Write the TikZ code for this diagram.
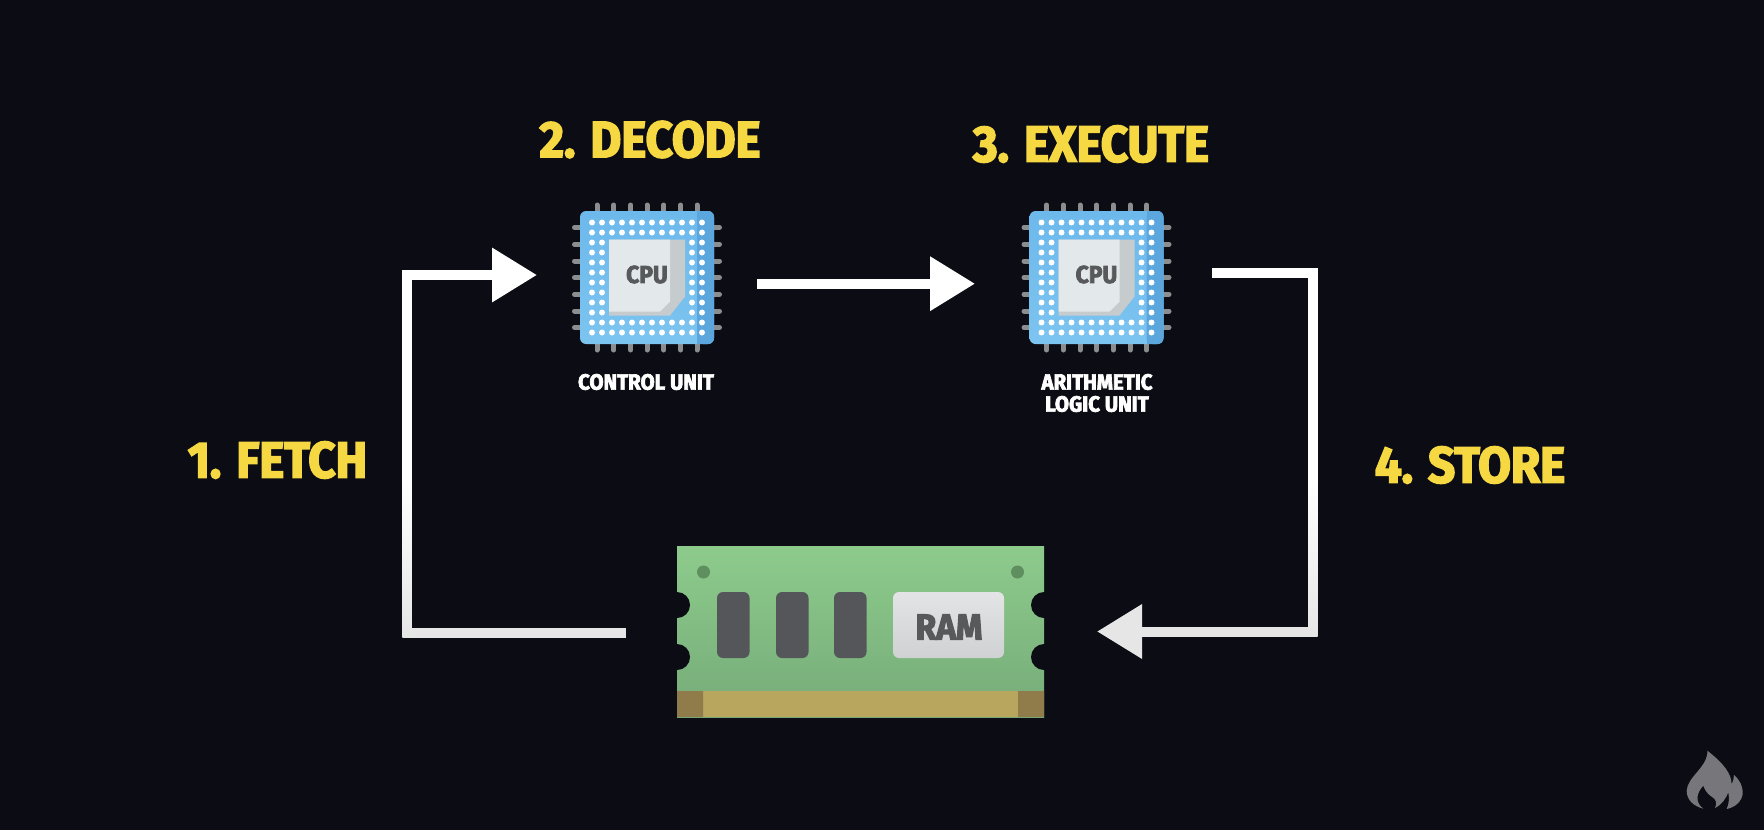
\documentclass[tikz,border=0pt]{standalone}
\usepackage{fontspec}
\setmainfont{Fira Sans}[FakeStretch=0.93,BoldFeatures={FakeBold=3.2}]
\usetikzlibrary{arrows.meta}
\definecolor{bgc}{HTML}{0C0C14}
\definecolor{yel}{HTML}{F5D842}
\definecolor{pin}{HTML}{8A8E8E}
\definecolor{chiptop}{HTML}{6DB9EC}
\definecolor{chipbot}{HTML}{7CC4F0}
\definecolor{chipdark}{HTML}{5BA6DC}
\definecolor{diet}{HTML}{E3E8EA}
\definecolor{dies}{HTML}{C6CBCE}
\definecolor{inkc}{HTML}{58595B}
\definecolor{greentop}{HTML}{8DCB8C}
\definecolor{greenbot}{HTML}{76AB78}
\definecolor{gold}{HTML}{B8A55E}
\definecolor{golddark}{HTML}{8F7C4A}
\definecolor{holec}{HTML}{5F8F5F}
\definecolor{ramchipc}{HTML}{555659}
\definecolor{labeltop}{HTML}{E2E4E6}
\definecolor{labelbot}{HTML}{CFD1D3}
\definecolor{flamec}{HTML}{77777B}
\definecolor{linelow}{HTML}{E6E6E6}
\tikzset{
  steplabel/.style={text=yel,font=\fontsize{51}{51}\selectfont\bfseries,inner sep=0pt,anchor=center},
  unitlabel/.style={text=white,font=\fontsize{22}{22}\selectfont\bfseries,inner sep=0pt,align=center},
  flow/.style={draw=white,line width=10pt,miter limit=10,-{Triangle[length=45pt,width=52pt]}},
  flowlow/.style={draw=linelow,line width=10pt,miter limit=10,-{Triangle[length=45pt,width=52pt]}},
  flowplain/.style={draw=white,line width=10pt,miter limit=10},
  flowlowplain/.style={draw=linelow,line width=10pt},
  pinline/.style={draw=pin,line width=5pt,line cap=round},
}
\newcommand{\cpuchip}[3]{%
  \begin{scope}[shift={(#2,#3)}]
    \foreach \p in {-50,-33.2,-16.4,0,16.8,33.6,50}{
      \draw[pinline] (\p,-72.5) -- (\p,72.5);
      \draw[pinline] (-72.5,\p) -- (72.5,\p);
    }
    \node[minimum width=134pt,minimum height=133pt,inner sep=0pt,rounded corners=6pt,
      top color=chiptop,bottom color=chipbot] (#1) at (0,0) {};
    \fill[chipdark,rounded corners=6pt] (50,-66.5) -- (67,-66.5) -- (67,66.5) -- (50,66.5) -- cycle;
    \fill[chipdark] (50,-66.5) rectangle (58,66.5);
    \foreach \i in {0,...,11}{\foreach \j in {0,...,11}{
      \ifnum\i>1 \ifnum\i<10 \ifnum\j>1 \ifnum\j<10 \else
        \fill[white] ({-55+10*\i},{-55+10*\j}) circle (3);
      \fi\else \fill[white] ({-55+10*\i},{-55+10*\j}) circle (3); \fi
      \else \fill[white] ({-55+10*\i},{-55+10*\j}) circle (3); \fi
      \else \fill[white] ({-55+10*\i},{-55+10*\j}) circle (3); \fi
    }}
    \fill[dies] (-38,-38) -- (38,-38) -- (38,19) -- (23,38) -- (-38,38) -- cycle;
    \fill[diet] (-38,-38) -- (23,-38) -- (23,24) -- (13,34) -- (-38,34) -- cycle;
    \node[inner sep=0pt,text=inkc,font=\fontsize{24.5}{24}\selectfont\bfseries] (#1t) at (0,-3) {CPU};
  \end{scope}}
\begin{document}
\begin{tikzpicture}[x=1pt,y=-1pt]
\useasboundingbox (0,0) rectangle (1764,830);
\fill[bgc] (0,0) rectangle (1764,830);
% RAM
\node[minimum width=367pt,minimum height=171pt,inner sep=0pt,top color=greentop,bottom color=greenbot] (ram) at (860.5,631.5) {};
\fill[gold] (677,691) rectangle (1044,717);
\fill[golddark] (677,691) rectangle (703,717) (1018,691) rectangle (1044,717);
\foreach \yy in {605,657}{\fill[bgc] (677,\yy) circle (13) (1044,\yy) circle (13);}
\fill[holec] (703.5,572) circle (6.5) (1017.5,572) circle (6.5);
\foreach \xx in {717,776,834}{\fill[ramchipc,rounded corners=6pt] (\xx,592) rectangle ++(32.5,66);}
\node[minimum width=111pt,minimum height=66pt,inner sep=0pt,rounded corners=6pt,top color=labeltop,bottom color=labelbot] (ramchip) at (948.5,625) {};
\node[inner sep=0pt,text=inkc,font=\fontsize{36}{36}\selectfont\bfseries] (ramt) at (949,627) {RAM};
% chips
\cpuchip{cpuA}{647}{277.5}
\cpuchip{cpuB}{1096.5}{277.5}
% labels
\node[steplabel] (fetch) at (277.5,460) {1. FETCH};
\node[steplabel] (decode) at (650,139.5) {2. DECODE};
\node[steplabel] (execute) at (1091,144) {3. EXECUTE};
\node[steplabel] (store) at (1470,465) {4. STORE};
\node[unitlabel] (ctrl) at (646,382) {CONTROL UNIT};
\node[unitlabel] (alu) at (1097,393) {ARITHMETIC\\LOGIC UNIT};
% connectors
\coordinate (fa) at (626,633); \coordinate (fb) at (407,633); \coordinate (fc) at (407,275); \coordinate (fd) at (537,275);
\coordinate (da) at (757,283.7); \coordinate (db) at (975,283.7);
\coordinate (sa) at (1212,273); \coordinate (sb) at (1313,273); \coordinate (sc) at (1313,631.5); \coordinate (sd) at (1097,631.5);
\draw[flowlowplain] (fa) -- (fb);
\draw[flow] (fb) -- (fc) -- (fd);
\shade[top color=white,bottom color=linelow] (402.4,480) rectangle (411.6,637.6);
\draw[flow] (da) -- (db);
\draw[flowplain] (sa) -- (sb) -- (sc);
\draw[flowlow] (sc) -- (sd);
\shade[top color=white,bottom color=linelow] (1308.4,480) rectangle (1317.6,636.1);
% flame
\begin{scope}[shift={(1660,730)},x=0.3333pt,y=-0.3333pt]
\fill[flamec] (142,62) .. controls (190,100) and (215,130) .. (215,165)
  .. controls (212,178) and (205,187) .. (197,192)
  .. controls (210,175) and (222,155) .. (222,135)
  .. controls (240,150) and (250,172) .. (248,192)
  .. controls (245,215) and (225,232) .. (200,237)
  .. controls (207,222) and (208,205) .. (205,187)
  .. controls (198,205) and (185,225) .. (165,234)
  .. controls (172,218) and (168,208) .. (155,200)
  .. controls (143,192) and (135,182) .. (130,167)
  .. controls (108,190) and (105,218) .. (130,236)
  .. controls (100,228) and (80,210) .. (80,182)
  .. controls (82,140) and (145,110) .. (142,62) -- cycle;
\end{scope}
\end{tikzpicture}
\end{document}
